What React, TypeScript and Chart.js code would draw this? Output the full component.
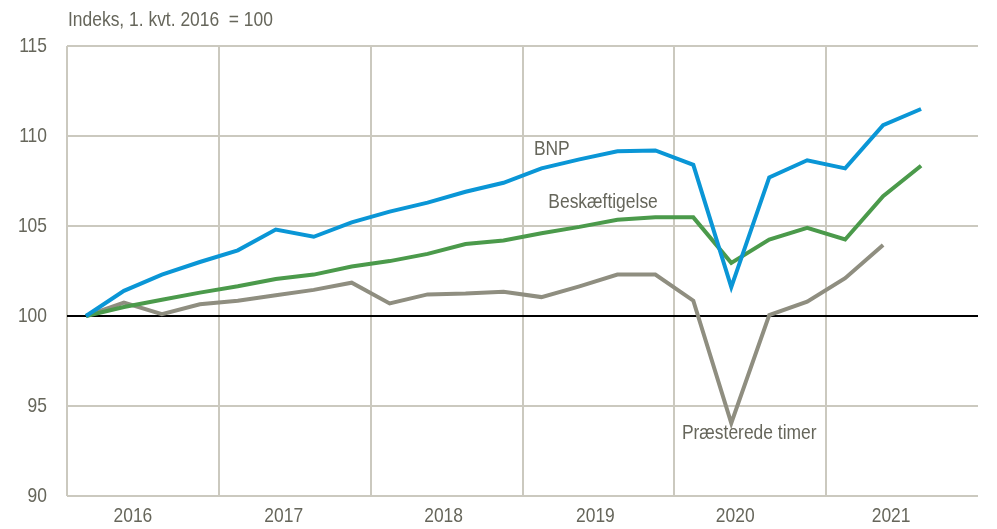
import React, { useEffect, useRef } from 'react';
import { Chart, registerables } from 'chart.js';

Chart.register(...registerables);

// ---- data ----
const quarters = [
  '2016K1', '2016K2', '2016K3', '2016K4',
  '2017K1', '2017K2', '2017K3', '2017K4',
  '2018K1', '2018K2', '2018K3', '2018K4',
  '2019K1', '2019K2', '2019K3', '2019K4',
  '2020K1', '2020K2', '2020K3', '2020K4',
  '2021K1', '2021K2', '2021K3', '2021K4',
];
const years = ['2016', '2017', '2018', '2019', '2020', '2021'];
const bnp = [
  100, 101.4, 102.3, 103.0,
  103.65, 104.8, 104.4, 105.2,
  105.8, 106.3, 106.9, 107.4,
  108.2, 108.7, 109.15, 109.2,
  108.4, 101.6, 107.7, 108.65,
  108.2, 110.6, 111.5,
];
const beskaeftigelse = [
  100, 100.5, 100.9, 101.3,
  101.65, 102.05, 102.3, 102.75,
  103.05, 103.45, 104.0, 104.2,
  104.6, 104.95, 105.35, 105.48,
  105.48, 102.95, 104.25, 104.9,
  104.25, 106.65, 108.35,
];
const praesteredeTimer = [
  100, 100.75, 100.1, 100.65,
  100.85, 101.15, 101.45, 101.85,
  100.7, 101.2, 101.25, 101.35,
  101.05, 101.65, 102.3, 102.3,
  100.85, 94.05, 100.05, 100.8,
  102.1, 103.95,
];
const seriesNames = ['BNP', 'Beskæftigelse', 'Præsterede timer'];
// label anchors in data coordinates: [category index, value]
const labelAnchorX = [11.8, 12.18, 15.7];
const labelAnchorY = [109.25, 106.3, 93.5];
const yTicks = [90, 95, 100, 105, 110, 115];
const titleText = 'Indeks, 1. kvt. 2016  = 100';

// ---- style ----
const FONT = '"Liberation Sans", Arial, sans-serif';
const FONT_SIZE = 21;
const SQUEEZE = 0.83;
const TEXT = '#66665b';
const GRID = '#cbc9bf';
const COLORS = ['#0a96d6', '#4b9a4b', '#8f8e80'];
// small horizontal nudges (px) of the year labels, as placed in the original
const YEAR_LABEL_NUDGE = [-10, -11, -3, -3, -15, -11];

function drawText(ctx: CanvasRenderingContext2D, text: string, x: number, y: number, align: CanvasTextAlign) {
  ctx.save();
  ctx.translate(x, y);
  ctx.scale(SQUEEZE, 1);
  ctx.textAlign = align;
  ctx.fillText(text, 0, 0);
  ctx.restore();
}

const annotPlugin = {
  id: 'annot',
  afterDatasetsDraw(chart: any) {
    const { ctx, scales, chartArea } = chart;
    const x = scales.x;
    const x2 = scales.x2;
    const y = scales.y;
    ctx.save();
    ctx.font = `${FONT_SIZE}px ${FONT}`;
    ctx.fillStyle = TEXT;
    ctx.textBaseline = 'middle';
    seriesNames.forEach((n, i) => {
      drawText(ctx, n, x.getPixelForValue(labelAnchorX[i]), y.getPixelForValue(labelAnchorY[i]), 'left');
    });
    drawText(ctx, titleText, chartArea.left + 1, chartArea.top - 26, 'left');
    yTicks.forEach((v) => {
      drawText(ctx, String(v), chartArea.left - 20, y.getPixelForValue(v), 'right');
    });
    years.forEach((yr, i) => {
      drawText(ctx, yr, x2.getPixelForValue(i) + (YEAR_LABEL_NUDGE[i] || 0), chartArea.bottom + 20, 'center');
    });
    ctx.restore();
  },
};

export default function App() {
  const ref = useRef<HTMLCanvasElement | null>(null);

  useEffect(() => {
    if (!ref.current) return;
    const chart = new Chart(ref.current, {
      type: 'line',
      data: {
        labels: quarters,
        datasets: [
          { label: seriesNames[0], data: bnp, borderColor: COLORS[0], borderWidth: 4, pointRadius: 0, fill: false, tension: 0 },
          { label: seriesNames[1], data: beskaeftigelse, borderColor: COLORS[1], borderWidth: 4, pointRadius: 0, fill: false, tension: 0 },
          { label: seriesNames[2], data: praesteredeTimer, borderColor: COLORS[2], borderWidth: 4, pointRadius: 0, fill: false, tension: 0 },
        ],
      },
      options: {
        animation: false,
        responsive: false,
        maintainAspectRatio: false,
        layout: { padding: { top: 46, right: 19, left: 0, bottom: 0 } },
        plugins: { legend: { display: false }, tooltip: { enabled: false }, title: { display: false } },
        scales: {
          x: {
            type: 'category',
            offset: true,
            grid: {
              offset: true,
              drawTicks: false,
              lineWidth: 2,
              color: (c: any) => (c.index % 4 === 0 ? GRID : 'rgba(0,0,0,0)'),
            },
            border: { display: false },
            ticks: { display: false },
            afterFit: (s: any) => { s.height = 0; },
          },
          x2: {
            type: 'category',
            labels: years,
            offset: true,
            position: 'bottom',
            grid: { display: false, drawTicks: false },
            border: { display: false },
            ticks: { display: false },
            afterFit: (s: any) => { s.height = 33; },
          },
          y: {
            min: 90,
            max: 115,
            afterBuildTicks: (s: any) => { s.ticks = yTicks.map((v) => ({ value: v })); },
            ticks: { display: false },
            grid: {
              drawTicks: false,
              lineWidth: 2,
              color: (c: any) => (c.tick && c.tick.value === 100 ? '#000000' : GRID),
            },
            border: { display: false },
            afterFit: (s: any) => { s.width = 67; },
          },
        },
      },
      plugins: [annotPlugin],
    });
    return () => chart.destroy();
  }, []);

  return (
    <div style={{ position: 'fixed', left: 0, top: 0, width: 997, height: 529, background: '#ffffff' }}>
      <canvas ref={ref} width={997} height={529} style={{ width: 997, height: 529 }} />
    </div>
  );
}
